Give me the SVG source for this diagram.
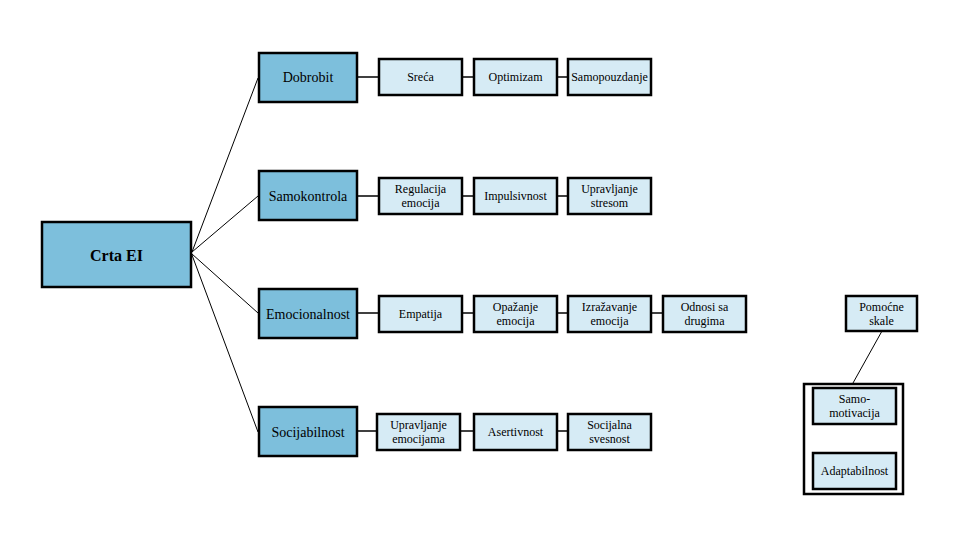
<svg xmlns="http://www.w3.org/2000/svg" width="960" height="540" viewBox="0 0 960 540">
<style>
.main{fill:#7DBFDC;stroke:#000;stroke-width:2.5}
.sub{fill:#D6EBF5;stroke:#000;stroke-width:2.5}
.frame{fill:#fff;stroke:#000;stroke-width:2.5}
text{text-anchor:middle;fill:#000;font-family:"Liberation Serif","Times New Roman",serif}
.t12{font-size:12px}
.t14{font-size:14px}
.t16{font-size:16px;font-weight:bold}
.c line{stroke:#000;stroke-width:1}
.c .h{stroke-width:1.5}
</style>
<rect width="960" height="540" fill="#fff"/>
<g class="c" id="connectors">
<line x1="192" y1="252" x2="258" y2="78"/>
<line x1="192" y1="252" x2="258" y2="196"/>
<line x1="192" y1="254" x2="258" y2="313"/>
<line x1="192" y1="255" x2="258" y2="432"/>
<line class="h" x1="358" y1="77" x2="378" y2="77"/>
<line class="h" x1="463" y1="77" x2="473" y2="77"/>
<line class="h" x1="557" y1="77" x2="567" y2="77"/>
<line class="h" x1="358" y1="196" x2="378" y2="196"/>
<line class="h" x1="463" y1="196" x2="473" y2="196"/>
<line class="h" x1="557" y1="196" x2="567" y2="196"/>
<line class="h" x1="358" y1="313" x2="378" y2="313"/>
<line class="h" x1="463" y1="313" x2="473" y2="313"/>
<line class="h" x1="557" y1="313" x2="568" y2="313"/>
<line class="h" x1="652" y1="313" x2="662" y2="313"/>
<line class="h" x1="358" y1="431" x2="376" y2="431"/>
<line class="h" x1="461" y1="431" x2="473" y2="431"/>
<line class="h" x1="557" y1="431" x2="568" y2="431"/>
<line x1="882" y1="331" x2="853" y2="383"/>
</g>
<g id="crta"><rect class="main" x="42" y="222" width="149" height="65"/><text class="t16" x="116.5" y="261">Crta EI</text></g>
<g id="dobrobit"><rect class="main" x="259" y="53" width="98" height="49"/><text class="t14" x="308" y="82">Dobrobit</text></g>
<g id="samokontrola"><rect class="main" x="259" y="171" width="98" height="49"/><text class="t14" x="308" y="200.5">Samokontrola</text></g>
<g id="emocionalnost"><rect class="main" x="259" y="289" width="98" height="49"/><text class="t14" x="308" y="318.5">Emocionalnost</text></g>
<g id="socijabilnost"><rect class="main" x="259" y="407" width="98" height="49"/><text class="t14" x="308" y="436.5">Socijabilnost</text></g>

<g id="sreca"><rect class="sub" x="379" y="59" width="83" height="36"/><text class="t12" x="420.5" y="81">Sreća</text></g>
<g id="optimizam"><rect class="sub" x="474" y="59" width="83" height="36"/><text class="t12" x="515.5" y="81">Optimizam</text></g>
<g id="samopouzdanje"><rect class="sub" x="568" y="59" width="83" height="36"/><text class="t12" x="609.5" y="81">Samopouzdanje</text></g>

<g id="regulacija"><rect class="sub" x="379" y="178" width="83" height="36"/><text class="t12" x="420.5" y="193">Regulacija</text><text class="t12" x="420.5" y="207">emocija</text></g>
<g id="impulsivnost"><rect class="sub" x="474" y="178" width="83" height="36"/><text class="t12" x="515.5" y="200">Impulsivnost</text></g>
<g id="stres"><rect class="sub" x="568" y="178" width="83" height="36"/><text class="t12" x="609.5" y="193">Upravljanje</text><text class="t12" x="609.5" y="207">stresom</text></g>

<g id="empatija"><rect class="sub" x="379" y="296" width="83" height="36"/><text class="t12" x="420.5" y="318">Empatija</text></g>
<g id="opazanje"><rect class="sub" x="474" y="296" width="83" height="36"/><text class="t12" x="515.5" y="311">Opažanje</text><text class="t12" x="515.5" y="325">emocija</text></g>
<g id="izrazavanje"><rect class="sub" x="568" y="296" width="83" height="36"/><text class="t12" x="609.5" y="311">Izražavanje</text><text class="t12" x="609.5" y="325">emocija</text></g>
<g id="odnosi"><rect class="sub" x="663" y="296" width="83" height="36"/><text class="t12" x="704.5" y="311">Odnosi sa</text><text class="t12" x="704.5" y="325">drugima</text></g>

<g id="upravljanje"><rect class="sub" x="377" y="414" width="83" height="36"/><text class="t12" x="418.5" y="429">Upravljanje</text><text class="t12" x="418.5" y="443">emocijama</text></g>
<g id="asertivnost"><rect class="sub" x="474" y="414" width="83" height="36"/><text class="t12" x="515.5" y="436">Asertivnost</text></g>
<g id="socijalna"><rect class="sub" x="568" y="414" width="83" height="36"/><text class="t12" x="609.5" y="429">Socijalna</text><text class="t12" x="609.5" y="443">svesnost</text></g>

<g id="pomocne"><rect class="sub" x="846" y="296" width="71" height="35"/><text class="t12" x="881.5" y="311">Pomoćne</text><text class="t12" x="881.5" y="325">skale</text></g>
<g id="skale"><rect class="frame" x="804" y="384" width="99" height="110"/></g>
<g id="samomotivacija"><rect class="sub" x="813" y="388" width="83" height="36"/><text class="t12" x="854.5" y="403">Samo-</text><text class="t12" x="854.5" y="417">motivacija</text></g>
<g id="adaptabilnost"><rect class="sub" x="813" y="453" width="83" height="36"/><text class="t12" x="854.5" y="475">Adaptabilnost</text></g>
</svg>
